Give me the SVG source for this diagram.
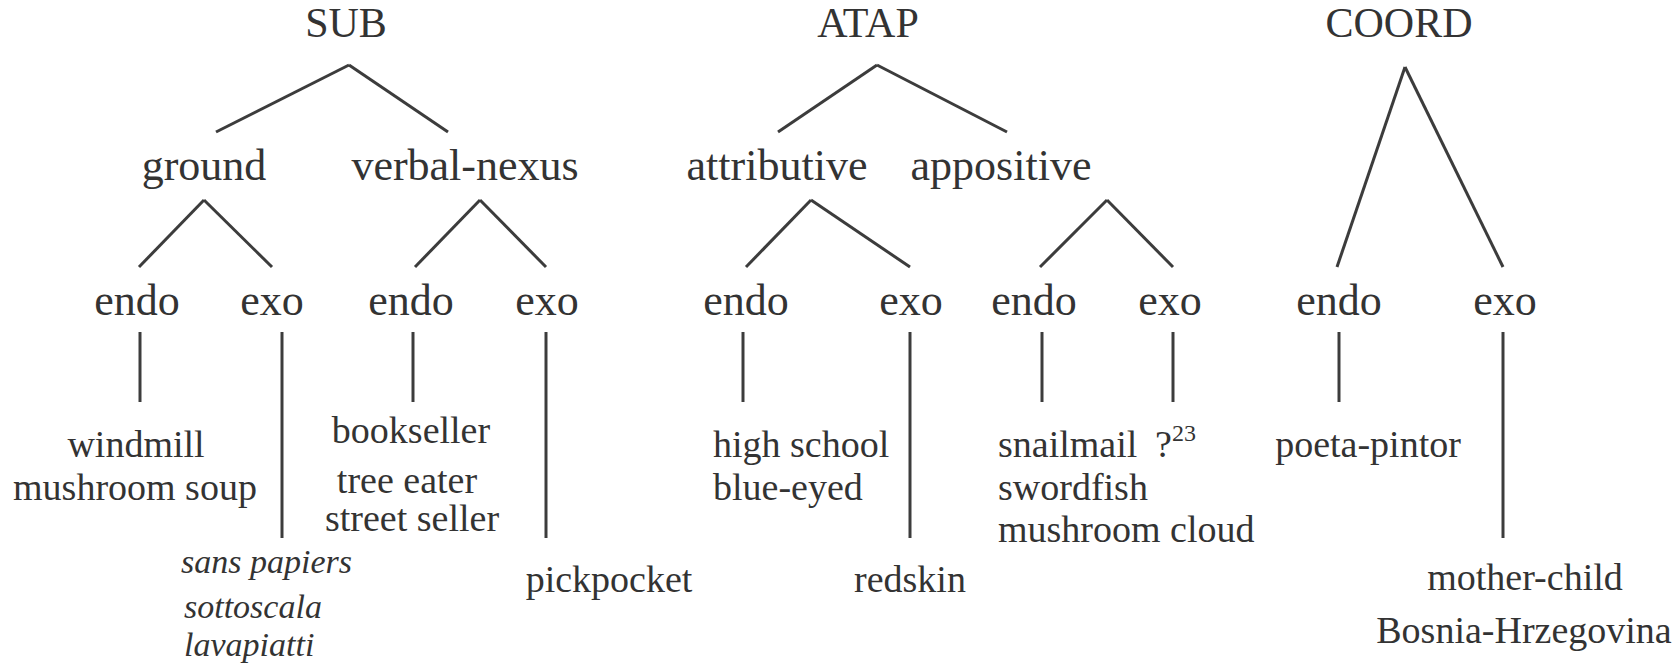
<svg xmlns="http://www.w3.org/2000/svg" width="1678" height="667" viewBox="0 0 1678 667">
<style>
text{font-family:"Liberation Serif","Times New Roman",serif;fill:#333}
.cap{font-size:42px}
.lab{font-size:44px}
.leaf{font-size:38px}
.it{font-size:34px;font-style:italic}
.sup{font-size:24px}
.c line{stroke:#3c3c3c;stroke-width:3;stroke-linecap:butt}
</style>
<rect width="1678" height="667" fill="#fff"/>
<g class="c" id="connectors">
<line x1="349" y1="65" x2="216" y2="132"/>
<line x1="349" y1="65" x2="448" y2="132"/>
<line x1="204" y1="200" x2="139" y2="267"/>
<line x1="204" y1="200" x2="272" y2="267"/>
<line x1="480" y1="200" x2="415" y2="267"/>
<line x1="480" y1="200" x2="546" y2="267"/>
<line x1="140" y1="332" x2="140" y2="402"/>
<line x1="282" y1="332" x2="282" y2="538"/>
<line x1="413" y1="332" x2="413" y2="402"/>
<line x1="546" y1="332" x2="546" y2="538"/>
<line x1="877" y1="65" x2="778" y2="132"/>
<line x1="877" y1="65" x2="1007" y2="132"/>
<line x1="811" y1="200" x2="746" y2="267"/>
<line x1="811" y1="200" x2="910" y2="267"/>
<line x1="1107" y1="200" x2="1040" y2="267"/>
<line x1="1107" y1="200" x2="1173" y2="267"/>
<line x1="743" y1="332" x2="743" y2="402"/>
<line x1="910" y1="332" x2="910" y2="538"/>
<line x1="1042" y1="332" x2="1042" y2="402"/>
<line x1="1173" y1="332" x2="1173" y2="402"/>
<line x1="1405" y1="67" x2="1337" y2="267"/>
<line x1="1405" y1="67" x2="1503" y2="267"/>
<line x1="1339" y1="332" x2="1339" y2="402"/>
<line x1="1503" y1="332" x2="1503" y2="538"/>
</g>
<g id="sub"><text class="cap" x="346" y="37" text-anchor="middle">SUB</text></g>
<g id="atap"><text class="cap" x="868" y="37" text-anchor="middle">ATAP</text></g>
<g id="coord"><text class="cap" x="1399" y="37" text-anchor="middle">COORD</text></g>
<g id="ground"><text class="lab" x="204" y="180" text-anchor="middle">ground</text></g>
<g id="verbal-nexus"><text class="lab" x="465" y="180" text-anchor="middle">verbal-nexus</text></g>
<g id="attributive"><text class="lab" x="777" y="180" text-anchor="middle">attributive</text></g>
<g id="appositive"><text class="lab" x="1001" y="180" text-anchor="middle">appositive</text></g>
<g id="sub-ground-endo"><text class="lab" x="137" y="315" text-anchor="middle">endo</text></g>
<g id="sub-ground-exo"><text class="lab" x="272" y="315" text-anchor="middle">exo</text></g>
<g id="sub-vn-endo"><text class="lab" x="411" y="315" text-anchor="middle">endo</text></g>
<g id="sub-vn-exo"><text class="lab" x="547" y="315" text-anchor="middle">exo</text></g>
<g id="atap-attr-endo"><text class="lab" x="746" y="315" text-anchor="middle">endo</text></g>
<g id="atap-attr-exo"><text class="lab" x="911" y="315" text-anchor="middle">exo</text></g>
<g id="atap-app-endo"><text class="lab" x="1034" y="315" text-anchor="middle">endo</text></g>
<g id="atap-app-exo"><text class="lab" x="1170" y="315" text-anchor="middle">exo</text></g>
<g id="coord-endo"><text class="lab" x="1339" y="315" text-anchor="middle">endo</text></g>
<g id="coord-exo"><text class="lab" x="1505" y="315" text-anchor="middle">exo</text></g>
<g id="leaf-sub-ground-endo">
<text class="leaf" x="136" y="457" text-anchor="middle">windmill</text>
<text class="leaf" x="135" y="500" text-anchor="middle">mushroom soup</text>
</g>
<g id="leaf-sub-ground-exo">
<text class="it" x="181" y="573">sans papiers</text>
<text class="it" x="184" y="618">sottoscala</text>
<text class="it" x="184" y="656">lavapiatti</text>
</g>
<g id="leaf-sub-vn-endo">
<text class="leaf" x="411" y="443" text-anchor="middle">bookseller</text>
<text class="leaf" x="407" y="493" text-anchor="middle">tree eater</text>
<text class="leaf" x="412" y="531" text-anchor="middle">street seller</text>
</g>
<g id="leaf-sub-vn-exo"><text class="leaf" x="609" y="592" text-anchor="middle">pickpocket</text></g>
<g id="leaf-atap-attr-endo">
<text class="leaf" x="713" y="457">high school</text>
<text class="leaf" x="713" y="500">blue-eyed</text>
</g>
<g id="leaf-atap-attr-exo"><text class="leaf" x="910" y="592" text-anchor="middle">redskin</text></g>
<g id="leaf-atap-app-endo">
<text class="leaf" x="998" y="457">snailmail</text>
<text class="leaf" x="998" y="500">swordfish</text>
<text class="leaf" x="998" y="542">mushroom cloud</text>
</g>
<g id="leaf-atap-app-exo"><text class="leaf" x="1155" y="457">?<tspan class="sup" dy="-16">23</tspan></text></g>
<g id="leaf-coord-endo"><text class="leaf" x="1368" y="457" text-anchor="middle">poeta-pintor</text></g>
<g id="leaf-coord-exo">
<text class="leaf" x="1525" y="590" text-anchor="middle">mother-child</text>
<text class="leaf" x="1524" y="643" text-anchor="middle">Bosnia-Hrzegovina</text>
</g>
</svg>
